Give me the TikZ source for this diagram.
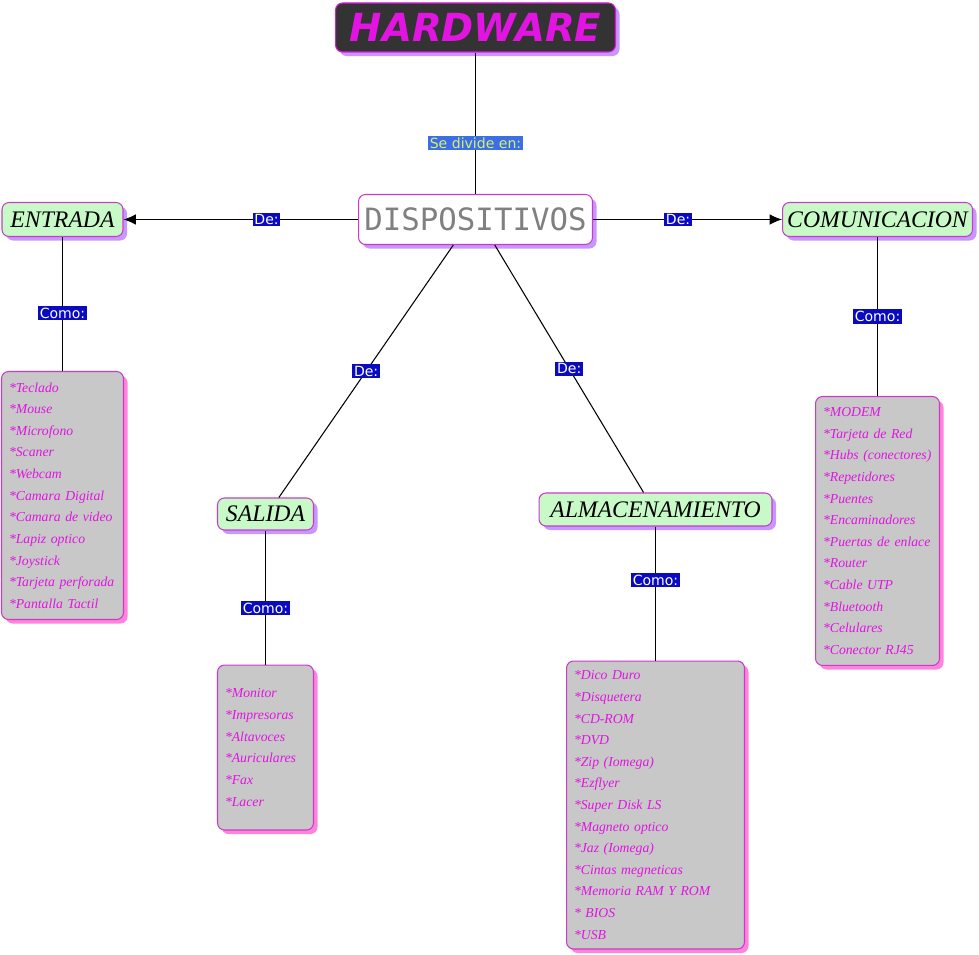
\documentclass[tikz,border=0pt]{standalone}
\usepackage{fontspec}
\usepackage{xcolor}
\usepackage{tikz}
\usetikzlibrary{arrows.meta,positioning,shadows}
\setmainfont{Liberation Serif}
\newfontfamily\labelfont{DejaVu Sans}
\newfontfamily\dispfont{DejaVu Sans Mono}
\hyphenpenalty=10000
\definecolor{HWDark}{RGB}{51,51,51}
\definecolor{HWMagenta}{RGB}{225,20,225}
\definecolor{HWBorder}{RGB}{200,60,200}
\definecolor{HWGreen}{RGB}{200,250,200}
\definecolor{HWLilac}{RGB}{200,150,255}
\definecolor{HWPink}{RGB}{255,130,220}
\definecolor{HWGray}{RGB}{200,200,200}
\definecolor{HWNavy}{RGB}{10,10,190}
\definecolor{HWBlue}{RGB}{60,110,230}
\definecolor{HWLime}{RGB}{215,240,110}
\tikzset{
  conn/.style={line width=0.6pt},
  topic/.style={draw=HWBorder,fill=HWGreen,rounded corners=4pt,line width=0.6pt,inner sep=0pt,
    font=\fontsize{13.5}{15}\selectfont\itshape,
    drop shadow={shadow xshift=2.3pt,shadow yshift=-2.3pt,fill=HWLilac,opacity=1}},
  itemlist/.style={draw=HWBorder,fill=HWGray,rounded corners=4pt,line width=0.6pt,
    inner xsep=0.15cm,inner ysep=0pt,align=left,text=HWMagenta,
    font=\fontsize{7.8}{12.3}\selectfont\itshape,
    drop shadow={shadow xshift=2.3pt,shadow yshift=-2.3pt,fill=HWPink,opacity=1}},
  link/.style={fill=HWNavy,text=white,inner sep=1pt,font=\labelfont\fontsize{8}{9}\selectfont}
}
\begin{document}
\begin{tikzpicture}[x=0.02cm,y=-0.02cm]
  \useasboundingbox (0,0) rectangle (979,955);
  % title and main node
  \node[draw=HWMagenta,fill=HWDark,text=HWMagenta,rounded corners=4pt,line width=0.6pt,
    minimum width=5.6cm,minimum height=0.98cm,
    font=\labelfont\bfseries\itshape\fontsize{22}{26}\selectfont,
    drop shadow={shadow xshift=2.3pt,shadow yshift=-2.3pt,fill=HWLilac,opacity=1}] (hw)
    at (475.5,27.5) {HARDWARE};
  \node[draw=HWBorder,fill=white,text=gray,rounded corners=4pt,line width=0.6pt,
    minimum width=4.68cm,minimum height=1cm,font=\dispfont\fontsize{17.5}{20}\selectfont,
    drop shadow={shadow xshift=2.3pt,shadow yshift=-2.3pt,fill=HWLilac,opacity=1}] (disp)
    at (475.5,219.5) {DISPOSITIVOS};
  % categories
  \node[topic,minimum width=2.42cm,minimum height=0.68cm] (ent) at (62.5,219.5) {ENTRADA};
  \node[topic,minimum width=3.8cm,minimum height=0.68cm] (com) at (877.5,219.5) {COMUNICACION};
  \node[topic,minimum width=1.92cm,minimum height=0.64cm] (sal) at (265.5,514) {SALIDA};
  \node[topic,minimum width=4.66cm,minimum height=0.66cm] (alm) at (655.5,509.5) {ALMACENAMIENTO};
  % lists
  \node[itemlist,text width=2.14cm,minimum height=4.96cm,below=2.68cm of ent] (entl)
    {{*}Teclado\\{*}Mouse\\{*}Microfono\\{*}Scaner\\{*}Webcam\\{*}Camara Digital\\{*}Camara de video\\{*}Lapiz optico\\{*}Joystick\\{*}Tarjeta perforada\\{*}Pantalla Tactil};
  \node[itemlist,text width=2.18cm,minimum height=5.38cm,below=3.18cm of com] (coml)
    {{*}MODEM\\{*}Tarjeta de Red\\{*}Hubs (conectores)\\{*}Repetidores\\{*}Puentes\\{*}Encaminadores\\{*}Puertas de enlace\\{*}Router\\{*}Cable UTP\\{*}Bluetooth\\{*}Celulares\\{*}Conector RJ45};
  \node[itemlist,text width=1.62cm,minimum height=3.3cm,below=2.68cm of sal] (sall)
    {{*}Monitor\\{*}Impresoras\\{*}Altavoces\\{*}Auriculares\\{*}Fax\\{*}Lacer};
  \node[itemlist,text width=3.26cm,minimum height=5.76cm,below=2.68cm of alm] (alml)
    {{*}Dico Duro\\{*}Disquetera\\{*}CD-ROM\\{*}DVD\\{*}Zip (Iomega)\\{*}Ezflyer\\{*}Super Disk LS\\{*}Magneto optico\\{*}Jaz (Iomega)\\{*}Cintas megneticas\\{*}Memoria RAM Y ROM\\{*} BIOS\\{*}USB};
  % connectors
  \draw[conn] (hw) -- (disp) node[pos=0.64,link,fill=HWBlue,text=HWLime]{Se divide en:};
  \draw[conn,-{Latex[length=7pt,width=6pt]}] (disp) -- (ent) node[pos=0.39,link]{De:};
  \draw[conn,-{Latex[length=7pt,width=6pt]}] (disp) -- (com) node[pos=0.45,link]{De:};
  \draw[conn] (disp.-131) -- (sal.51) node[midway,link]{De:};
  \draw[conn] (disp.-53) -- (alm.125) node[midway,link]{De:};
  \draw[conn] (ent) -- (entl) node[pos=0.57,link]{Como:};
  \draw[conn] (com) -- (coml) node[pos=0.5,link]{Como:};
  \draw[conn] (sal) -- (sall) node[pos=0.58,link]{Como:};
  \draw[conn] (alm) -- (alml) node[pos=0.4,link]{Como:};
\end{tikzpicture}
\end{document}
